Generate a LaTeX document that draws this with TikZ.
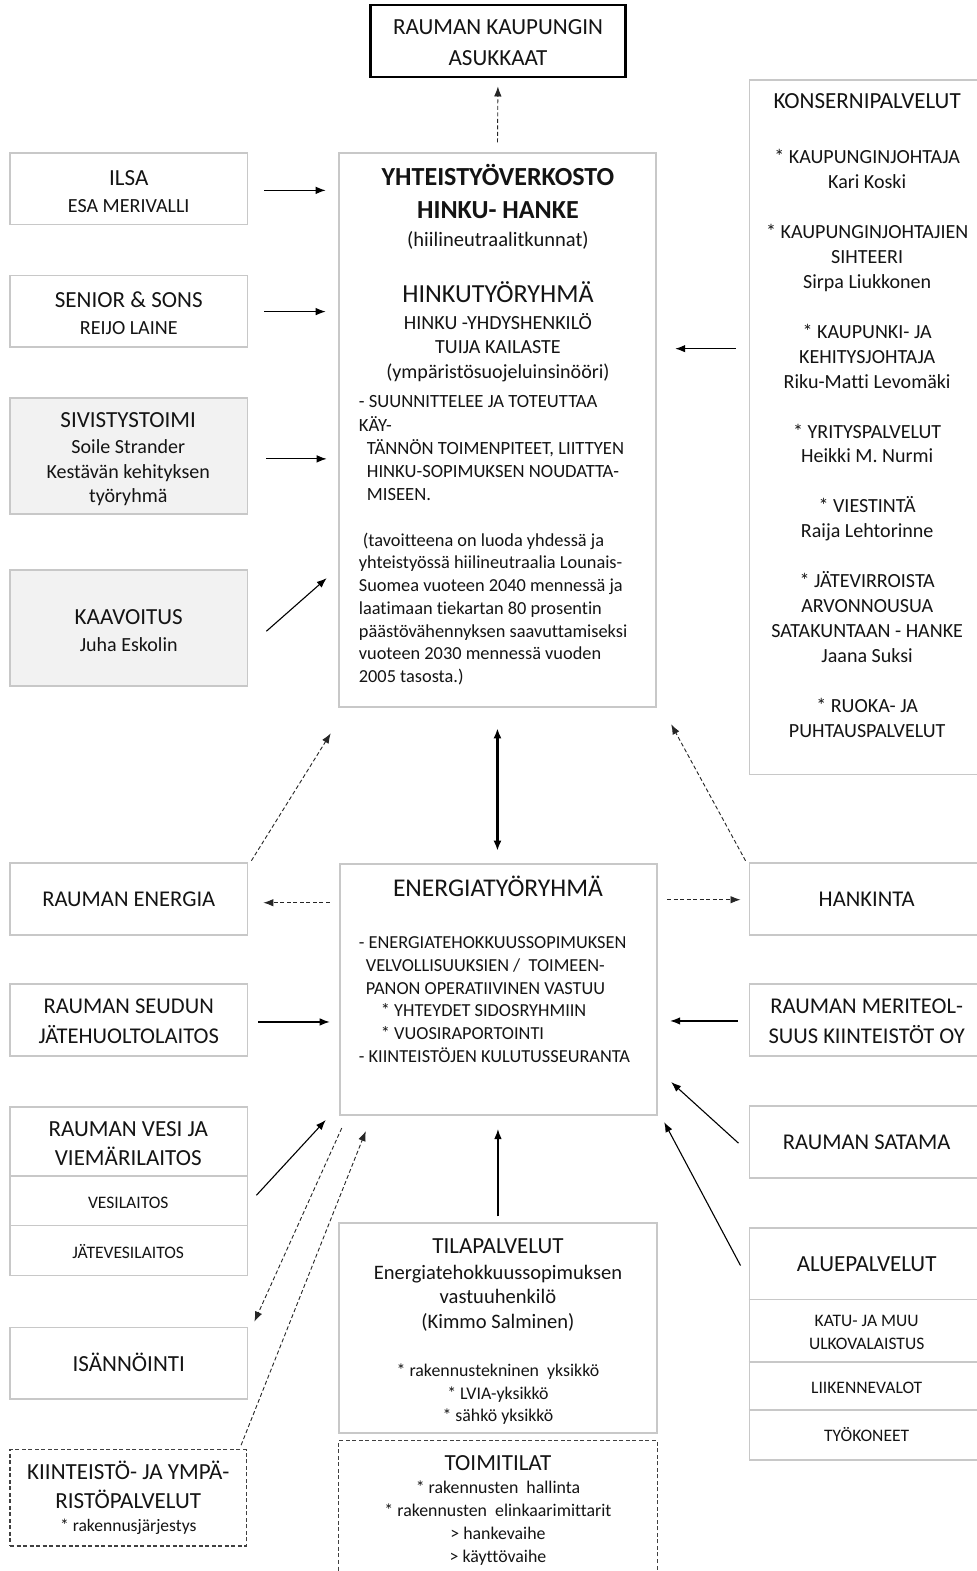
\documentclass[tikz,border=0pt]{standalone}
\usepackage{fontspec}
\setmainfont{Carlito}[Ligatures={NoCommon,NoRequired,NoContextual}]
\usetikzlibrary{arrows.meta,calc}
\newcommand\fsz[2]{\fontsize{#1}{#2}\selectfont}
\newcommand\tp{\rule{0pt}{1em}}
\definecolor{boxgray}{RGB}{200,200,200}
\definecolor{boxfill}{RGB}{242,242,242}
\definecolor{txt}{RGB}{20,20,20}
\tikzset{
  box/.style={draw=boxgray, line width=1.8pt, fill=white, rectangle, inner sep=0pt},
  graybox/.style={box, fill=boxfill},
  dbox/.style={draw=black!75, line width=1.3pt, dash pattern=on 4pt off 2.5pt, rectangle, inner sep=0pt},
  ct/.style={inner sep=0pt, anchor=center, align=center, text=txt},
  tl/.style={inner sep=0pt, anchor=north, align=center, text=txt, yshift=-1pt},
  tll/.style={inner sep=0pt, anchor=north west, align=left, text=txt, yshift=-1pt},
  sl/.style={inner sep=0pt, anchor=base, text=txt, yshift=-1pt},
  arr/.style={-{Latex[length=10pt,width=7.5pt]}, line width=1.1pt, black},
  darr/.style={-{Latex[length=10pt,width=7.5pt]}, line width=0.9pt, black!85, dash pattern=on 4pt off 2.5pt},
  divider/.style={draw=boxgray, line width=1.8pt},
}
\begin{document}
\begin{tikzpicture}[x=1pt,y=-1pt]
\useasboundingbox (0,0) rectangle (975,1568);
\clip (0,0) rectangle (975,1568);
\fill[white] (0,0) rectangle (975,1568);

% ---------- top ----------
\node[box, draw=black, line width=2.6pt, minimum width=254pt, minimum height=72pt] (asuk) at (497,41) {};
\node[ct, font=\fsz{23}{30}] (asukT) at ($(asuk.center)+(0,1.5)$) {RAUMAN KAUPUNGIN\\ASUKKAAT};

% ---------- left column upper ----------
\node[box, minimum width=237pt, minimum height=71pt] (ilsa) at (128.5,188.5) {};
\node[ct, font=\fsz{23}{27}] (ilsaT) at ($(ilsa.center)+(0,2.5)$) {ILSA\\{\fsz{20}{27}ESA MERIVALLI}};
\node[box, minimum width=237pt, minimum height=71pt] (senior) at (128.5,310.5) {};
\node[ct, font=\fsz{23}{27}] (seniorT) at ($(senior.center)+(0,2)$) {SENIOR \& SONS\\{\fsz{20}{27}REIJO LAINE}};
\node[graybox, minimum width=237pt, minimum height=116pt] (sivis) at (128.5,455) {};
\node[tl, font=\fsz{23}{27}] (sivA) at (128,402.4) {\tp SIVISTYSTOIMI};
\node[tl, font=\fsz{20}{24.5}] (sivB) at (128,431.4) {\tp Soile Strander\\Kestävän kehityksen\\työryhmä};
\node[graybox, minimum width=237pt, minimum height=116pt] (kaav) at (128.5,627) {};
\node[ct, font=\fsz{23}{27}] (kaavT) at ($(kaav.center)+(0,2.5)$) {KAAVOITUS\\{\fsz{20}{27}Juha Eskolin}};

% ---------- central hinku box ----------
\node[box, minimum width=317pt, minimum height=553pt] (hinku) at (496.5,429.5) {};
\node[tl, font=\fsz{26}{33}\bfseries] (hA) at (497,158.3) {\tp YHTEISTYÖVERKOSTO\\HINKU- HANKE};
\node[tl, font=\fsz{20.5}{24.5}] (hB) at (497,224.1) {\tp (hiilineutraalitkunnat)};
\node[tl, font=\fsz{26}{30}] (hC) at (497,274.3) {\tp HINKUTYÖRYHMÄ};
\node[tl, font=\fsz{20}{24.5}] (hD) at (497,307.4) {\tp HINKU -YHDYSHENKILÖ\\TUIJA KAILASTE\\(ympäristösuojeluinsinööri)};
\node[tll, font=\fsz{18.6}{23}] (hE) at (358,387.4) {\tp - SUUNNITTELEE JA TOTEUTTAA\\KÄY-\\\hspace*{8pt}TÄNNÖN TOIMENPITEET, LIITTYEN\\\hspace*{8pt}HINKU-SOPIMUKSEN NOUDATTA-\\\hspace*{8pt}MISEEN.};
\node[tll, font=\fsz{18.3}{22.67}] (hF) at (358,525.6) {\tp\hspace*{4pt}(tavoitteena on luoda yhdessä ja\\yhteistyössä hiilineutraalia Lounais-\\Suomea vuoteen 2040 mennessä ja\\laatimaan tiekartan 80 prosentin\\päästövähennyksen saavuttamiseksi\\vuoteen 2030 mennessä vuoden\\2005 tasosta.)};

% ---------- konsernipalvelut ----------
\node[box, minimum width=237pt, minimum height=693pt] (kons) at (866.5,426.5) {};
\node[tl, font=\fsz{23}{27}] (kT) at (865.5,84.4) {\tp KONSERNIPALVELUT};
\node[tl, font=\fsz{20}{24.87}] (kL) at (865.5,142.4) {\tp * KAUPUNGINJOHTAJA\\Kari Koski\\[24.87pt]* KAUPUNGINJOHTAJIEN\\SIHTEERI\\Sirpa Liukkonen\\[24.87pt]* KAUPUNKI- JA\\KEHITYSJOHTAJA\\Riku-Matti Levomäki\\[24.87pt]* YRITYSPALVELUT\\Heikki M. Nurmi\\[24.87pt]* VIESTINTÄ\\Raija Lehtorinne\\[24.87pt]* JÄTEVIRROISTA\\ARVONNOUSUA\\SATAKUNTAAN - HANKE\\Jaana Suksi\\[24.87pt]* RUOKA- JA\\PUHTAUSPALVELUT};

% ---------- middle row ----------
\node[box, minimum width=237pt, minimum height=72pt] (rene) at (128.5,897) {};
\node[ct, font=\fsz{22.5}{27}] (reneT) at ($(rene.center)+(0,1)$) {RAUMAN ENERGIA};
\node[box, minimum width=317pt, minimum height=251pt] (etr) at (497.5,987.5) {};
\node[tl, font=\fsz{25.5}{30}] (eT) at (497,867.7) {\tp ENERGIATYÖRYHMÄ};
\node[tll, font=\fsz{18.3}{22.6}] (eL) at (358,927.6) {\tp - ENERGIATEHOKKUUSSOPIMUKSEN\\\hspace*{7pt}VELVOLLISUUKSIEN /\ \ TOIMEEN-\\\hspace*{7pt}PANON OPERATIIVINEN VASTUU\\\hspace*{22pt}* YHTEYDET SIDOSRYHMIIN\\\hspace*{22pt}* VUOSIRAPORTOINTI\\- KIINTEISTÖJEN KULUTUSSEURANTA};
\node[box, minimum width=237pt, minimum height=72pt] (hank) at (866.5,897) {};
\node[ct, font=\fsz{22.5}{27}] (hankT) at ($(hank.center)+(-1.5,1)$) {HANKINTA};
\node[box, minimum width=237pt, minimum height=72pt] (jate) at (128.5,1018) {};
\node[ct, font=\fsz{22.5}{30}] (jateT) at ($(jate.center)+(0,1)$) {RAUMAN SEUDUN\\JÄTEHUOLTOLAITOS};
\node[box, minimum width=237pt, minimum height=72pt] (meri) at (866.5,1018) {};
\node[ct, font=\fsz{22.5}{30}] (meriT) at ($(meri.center)+(-1.5,1)$) {RAUMAN MERITEOL-\\SUUS KIINTEISTÖT OY};

% ---------- lower left ----------
\node[box, minimum width=237pt, minimum height=168pt] (vesi) at (128.5,1189) {};
\draw[divider] ($(vesi.north west)+(0,70)$) -- ($(vesi.north east)+(0,70)$);
\draw[divider] ($(vesi.north west)+(0,119)$) -- ($(vesi.north east)+(0,119)$);
\node[tl, font=\fsz{23}{29}] (vA) at (128,1110.4) {\tp RAUMAN VESI JA\\VIEMÄRILAITOS};
\node[sl, font=\fsz{17.5}{21}] (vB) at (128,1205.6) {VESILAITOS};
\node[sl, font=\fsz{17.5}{21}] (vC) at (128,1254.6) {JÄTEVESILAITOS};
\node[box, minimum width=237pt, minimum height=71pt] (isan) at (128.5,1360.5) {};
\node[ct, font=\fsz{23}{27}] (isanT) at ($(isan.center)+(0,-0.5)$) {ISÄNNÖINTI};
\node[dbox, minimum width=236pt, minimum height=96pt] (kiint) at (128,1495) {};
\node[ct, font=\fsz{23}{29}] (kiintT) at ($(kiint.center)+(0,0)$) {KIINTEISTÖ- JA YMPÄ-\\RISTÖPALVELUT\\[-5.8pt]{\fsz{17.5}{21}* rakennusjärjestys}};

% ---------- lower right ----------
\node[box, minimum width=237pt, minimum height=72pt] (sata) at (866.5,1140) {};
\node[ct, font=\fsz{22.5}{27}] (sataT) at ($(sata.center)+(-1.5,0)$) {RAUMAN SATAMA};
\node[box, minimum width=237pt, minimum height=231pt] (alue) at (866.5,1341.5) {};
\draw[divider] ($(alue.north west)+(0,72)$) -- ($(alue.north east)+(0,72)$);
\draw[divider] ($(alue.north west)+(0,134)$) -- ($(alue.north east)+(0,134)$);
\draw[divider] ($(alue.north west)+(0,182)$) -- ($(alue.north east)+(0,182)$);
\node[sl, font=\fsz{23}{27}] (aA) at (865,1268.4) {ALUEPALVELUT};
\node[tl, font=\fsz{17.5}{23}] (aB) at (865,1305.1) {\tp KATU- JA MUU\\ULKOVALAISTUS};
\node[sl, font=\fsz{17.5}{21}] (aC) at (865,1389.6) {LIIKENNEVALOT};
\node[sl, font=\fsz{17.5}{21}] (aD) at (865,1437.6) {TYÖKONEET};

% ---------- lower centre ----------
\node[box, minimum width=318pt, minimum height=209pt] (tila) at (497,1325.5) {};
\node[tl, font=\fsz{23}{27}] (tA) at (497,1226.4) {\tp TILAPALVELUT};
\node[tl, font=\fsz{20.5}{24.5}] (tB) at (497,1255.1) {\tp Energiatehokkuussopimuksen\\vastuuhenkilö\\(Kimmo Salminen)};
\node[tl, font=\fsz{17.8}{22.5}] (tC) at (497,1354.9) {\tp * rakennustekninen~ yksikkö\\* LVIA-yksikkö\\* sähkö yksikkö};
\node[dbox, minimum width=318pt, minimum height=142pt] (toimi) at (497,1509) {};
\node[tl, font=\fsz{23}{27}] (oA) at (497,1443.4) {\tp TOIMITILAT};
\node[tl, font=\fsz{17.8}{23}] (oB) at (497,1471.9) {\tp * rakennusten~ hallinta\\* rakennusten~ elinkaarimittarit\\> hankevaihe\\> käyttövaihe};

% ---------- connectors ----------
\draw[darr, shorten <=10pt, shorten >=8pt] (hinku.north) -- (asuk.south);
\draw[arr] ($(ilsa.east)+(16,1.5)$) -- ($(ilsa.east -| hinku.west)+(-12,1.5)$);
\draw[arr] ($(senior.east)+(16,0.5)$) -- ($(senior.east -| hinku.west)+(-12,0.5)$);
\draw[arr] ($(sivis.east)+(18,3)$) -- ($(sivis.east -| hinku.west)+(-11,3)$);
\draw[arr] ($(kaav.east)+(18,3)$) -- ($(kaav.east -| hinku.west)+(-11,-50)$);
\draw[arr] ($(kons.west)+(-13,-78.5)$) -- ($(kons.west -| hinku.east)+(18,-78.5)$);
\draw[{Latex[length=10pt,width=8pt]}-{Latex[length=10pt,width=8pt]}, line width=2.4pt, shorten <=20pt, shorten >=12pt] (hinku.south) -- (hinku.south |- etr.north);
\draw[darr] ($(rene.north east)+(3,-1)$) -- ($(hinku.south west)+(-7,25)$);
\draw[darr] ($(hank.north west)+(-3,-1)$) -- ($(hinku.south east)+(14,16)$);
\draw[darr] ($(rene.east -| etr.west)+(-9,4)$) -- ($(rene.east)+(15,4)$);
\draw[darr] ($(hank.west -| etr.east)+(9,1)$) -- ($(hank.west)+(-8,1)$);
\draw[arr] ($(jate.east)+(10,2)$) -- ($(jate.east -| etr.west)+(-9,2)$);
\draw[arr] ($(meri.west)+(-11,1)$) -- ($(meri.west -| etr.east)+(12,1)$);
\draw[arr] ($(vesi.east)+(8,4)$) -- ($(etr.south west)+(-13,4)$);
\draw[arr] ($(sata.west)+(-10,1)$) -- ($(sata.west -| etr.east)+(13,-60)$);
\draw[arr] ($(alue.north west)+(-8,38)$) -- ($(etr.south east)+(6,6)$);
\draw[darr] ($(etr.south west)+(3,12)$) -- ($(isan.north east)+(6,-5)$);
\draw[darr] ($(kiint.north east)+(-6,-4)$) -- ($(etr.south west)+(27,15)$);
\draw[arr] ($(tila.north)+(0,-6)$) -- ($(tila.north |- etr.south)+(0,13)$);
\end{tikzpicture}
\end{document}
